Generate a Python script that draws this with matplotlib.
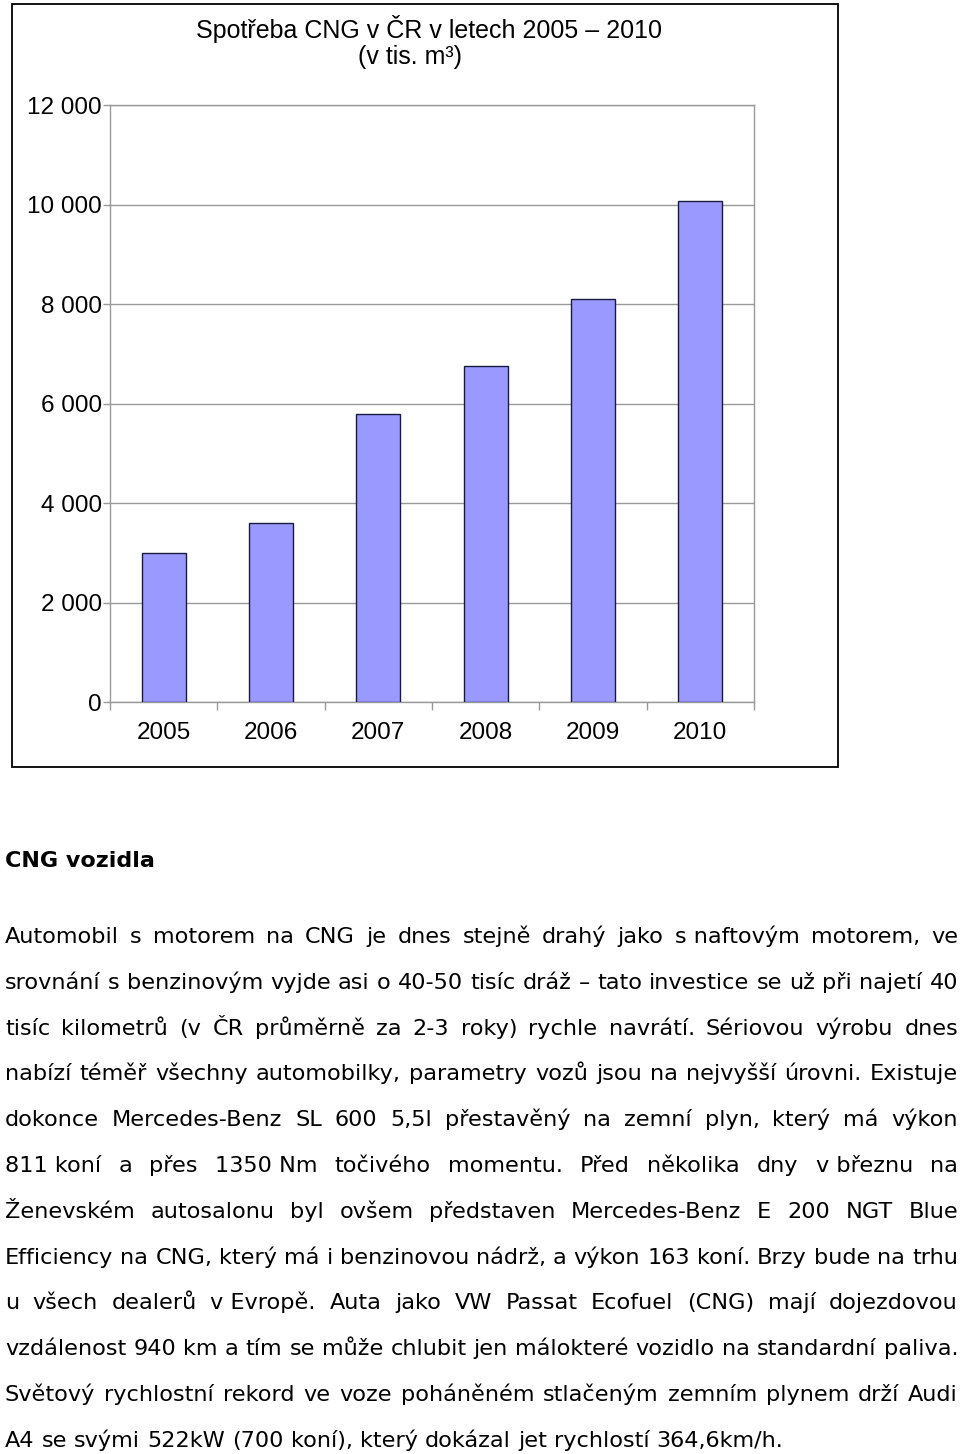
import matplotlib
matplotlib.use('Agg')
import matplotlib.pyplot as plt
from matplotlib.patches import Rectangle

years = ['2005', '2006', '2007', '2008', '2009', '2010']
consumption = [3000, 3600, 5800, 6750, 8100, 10080]
y_ticks = [0, 2000, 4000, 6000, 8000, 10000, 12000]
y_tick_labels = ['0', '2 000', '4 000', '6 000', '8 000', '10 000', '12 000']

title_1 = 'Spotřeba CNG v ČR v letech 2005 – 2010'
title_2 = '(v tis. m³)'
heading = 'CNG vozidla'
# each line is a list of words; words joined by a non-breaking space stay together
body_lines = [
    ['Automobil', 's', 'motorem', 'na', 'CNG', 'je', 'dnes', 'stejně', 'drahý', 'jako', 's naftovým', 'motorem,', 've'],
    ['srovnání', 's', 'benzinovým', 'vyjde', 'asi', 'o', '40-50', 'tisíc', 'dráž', '–', 'tato', 'investice', 'se', 'už', 'při', 'najetí', '40'],
    ['tisíc', 'kilometrů', '(v', 'ČR', 'průměrně', 'za', '2-3', 'roky)', 'rychle', 'navrátí.', 'Sériovou', 'výrobu', 'dnes'],
    ['nabízí', 'téměř', 'všechny', 'automobilky,', 'parametry', 'vozů', 'jsou', 'na', 'nejvyšší', 'úrovni.', 'Existuje'],
    ['dokonce', 'Mercedes-Benz', 'SL', '600', '5,5l', 'přestavěný', 'na', 'zemní', 'plyn,', 'který', 'má', 'výkon'],
    ['811 koní', 'a', 'přes', '1350 Nm', 'točivého', 'momentu.', 'Před', 'několika', 'dny', 'v březnu', 'na'],
    ['Ženevském', 'autosalonu', 'byl', 'ovšem', 'představen', 'Mercedes-Benz', 'E', '200', 'NGT', 'Blue'],
    ['Efficiency', 'na', 'CNG,', 'který', 'má', 'i', 'benzinovou', 'nádrž,', 'a', 'výkon', '163', 'koní.', 'Brzy', 'bude', 'na', 'trhu'],
    ['u', 'všech', 'dealerů', 'v Evropě.', 'Auta', 'jako', 'VW', 'Passat', 'Ecofuel', '(CNG)', 'mají', 'dojezdovou'],
    ['vzdálenost', '940', 'km', 'a', 'tím', 'se', 'může', 'chlubit', 'jen', 'málokteré', 'vozidlo', 'na', 'standardní', 'paliva.'],
    ['Světový', 'rychlostní', 'rekord', 've', 'voze', 'poháněném', 'stlačeným', 'zemním', 'plynem', 'drží', 'Audi'],
    ['A4', 'se', 'svými', '522kW', '(700', 'koní),', 'který', 'dokázal', 'jet', 'rychlostí', '364,6km/h.'],
]

W, H = 960, 1454
fig = plt.figure(figsize=(W / 100, H / 100), dpi=100)


def fx(x):
    return x / W


def fy(y):
    return 1 - y / H


chart_font = 'Liberation Sans'
body_font = 'DejaVu Sans Condensed'

# outer frame of the chart
fig.patches.append(Rectangle((fx(12), fy(767)), fx(838) - fx(12), fy(4) - fy(767),
                             transform=fig.transFigure, fill=False, ec='black', lw=1.3))

ax = fig.add_axes([fx(110), fy(702.3), fx(754) - fx(110), fy(105.3) - fy(702.3)])
x = range(len(years))
ax.bar(x, consumption, width=0.41, color='#9999ff', edgecolor='#1a1a40', linewidth=1.0, zorder=3)
ax.set_xlim(-0.5, len(years) - 0.5)
ax.set_ylim(0, 12000)
ax.set_yticks(y_ticks)
ax.set_yticklabels(y_tick_labels, fontsize=17.5, family=chart_font)
ax.set_xticks(list(x))
ax.set_xticklabels(years, fontsize=17.5, family=chart_font)
ax.set_xticks([i - 0.5 for i in range(len(years) + 1)], minor=True)
ax.tick_params(axis='x', which='major', length=0, pad=14)
ax.tick_params(axis='x', which='minor', length=6, color='#999999', width=1)
ax.tick_params(axis='y', length=5, color='#999999', width=1, pad=1)
ax.yaxis.grid(True, color='#999999', linewidth=1)
ax.set_axisbelow(True)
for sp in ax.spines.values():
    sp.set_color('#999999')
    sp.set_linewidth(1)

fig.text(fx(429), fy(29), title_1, ha='center', va='center', fontsize=18, family=chart_font)
fig.text(fx(410), fy(57), title_2, ha='center', va='center', fontsize=18, family=chart_font)

# text below the chart
fig.text(fx(5), fy(866.7), heading, ha='left', va='baseline', fontsize=16,
         family=body_font, weight='bold')

renderer = fig.canvas.get_renderer()
left, right = 5, 958
base0, step = 943, 45.8
body_size = 16.1
probe = fig.text(0, 0, 'a a', fontsize=body_size, family=body_font)
probe1 = fig.text(0, 0, 'aa', fontsize=body_size, family=body_font)
sw = probe.get_window_extent(renderer).width - probe1.get_window_extent(renderer).width
probe.remove()
probe1.remove()
for i, words in enumerate(body_lines):
    base = base0 + i * step
    texts = [fig.text(0, fy(base), w, ha='left', va='baseline', fontsize=body_size, family=body_font)
             for w in words]
    widths = [t.get_window_extent(renderer).width for t in texts]
    if i == len(body_lines) - 1:
        gap = sw
    else:
        gap = (right - left - sum(widths)) / (len(words) - 1)
    pos = left
    for t, w in zip(texts, widths):
        t.set_x(fx(pos))
        pos += w + gap

fig.savefig('out.png', dpi=100)
